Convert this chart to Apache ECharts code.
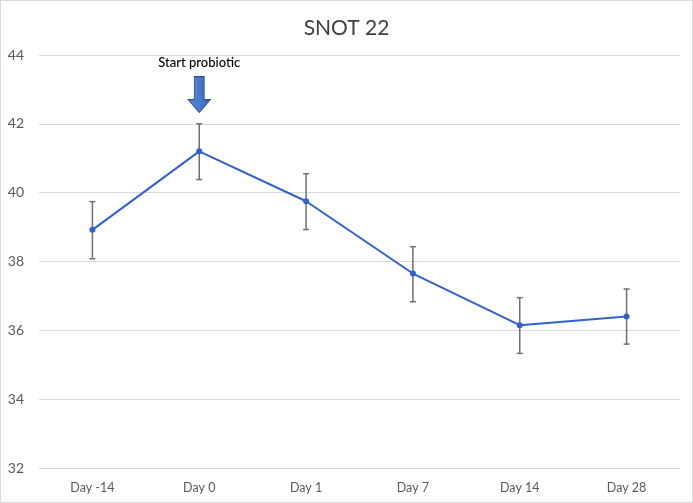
<!DOCTYPE html>
<html>
<head>
<meta charset="utf-8">
<script src="https://cdn.jsdelivr.net/npm/echarts@6/dist/echarts.min.js"></script>
<style>
  html, body { margin: 0; padding: 0; background: #fff; }
  #chart { width: 693px; height: 503px; border: 1px solid #d9d9d9; box-sizing: border-box; }
</style>
</head>
<body>
<div id="chart"></div>
<script>
// SNOT 22 scores over time, with error bars
const days = ["Day -14", "Day 0", "Day 1", "Day 7", "Day 14", "Day 28"];
const means = [38.92, 41.2, 39.75, 37.65, 36.15, 36.4];
const lower = [38.08, 40.38, 38.93, 36.83, 35.33, 35.6];
const upper = [39.74, 42.0, 40.55, 38.43, 36.95, 37.2];
const annotation = { day: "Day 0", level: 42.85, text: "Start probiotic" };

const chart = echarts.init(document.getElementById("chart"));

const errData = days.map((d, i) => [i, lower[i], upper[i]]);

function renderErr(params, api) {
  const x = api.value(0);
  const lo = api.coord([x, api.value(1)]);
  const hi = api.coord([x, api.value(2)]);
  const cap = 3;
  const style = { stroke: "#707070", lineWidth: 1.5 };
  return {
    type: "group",
    children: [
      { type: "line", shape: { x1: lo[0], y1: lo[1], x2: hi[0], y2: hi[1] }, style },
      { type: "line", shape: { x1: lo[0] - cap, y1: lo[1], x2: lo[0] + cap, y2: lo[1] }, style },
      { type: "line", shape: { x1: hi[0] - cap, y1: hi[1], x2: hi[0] + cap, y2: hi[1] }, style },
    ],
  };
}

chart.setOption({
  animation: false,
  textStyle: { fontFamily: "Lato, 'Open Sans', sans-serif" },
  title: {
    text: "SNOT 22",
    left: "center",
    top: 12,
    textStyle: { fontSize: 21, fontWeight: "normal", color: "#404040" },
  },
  grid: { left: 38, right: 12, top: 54, bottom: 34, containLabel: false },
  xAxis: {
    type: "category",
    data: days,
    boundaryGap: true,
    axisLine: { show: false },
    axisTick: { show: false },
    axisLabel: { color: "#595959", fontSize: 12.5, margin: 13 },
  },
  yAxis: {
    type: "value",
    min: 32,
    max: 44,
    interval: 2,
    axisLine: { show: false },
    axisTick: { show: false },
    axisLabel: { color: "#595959", fontSize: 14, margin: 15 },
    splitLine: { lineStyle: { color: "#d9d9d9", width: 1 } },
  },
  series: [
    {
      type: "custom",
      data: errData,
      renderItem: renderErr,
      z: 1,
    },
    {
      type: "line",
      data: means,
      z: 3,
      symbol: "circle",
      symbolSize: 6,
      lineStyle: { color: "#2f62d0", width: 2 },
      itemStyle: { color: "#2f62d0" },
      markPoint: {
        silent: true,
        symbol: "path://M2.75,0 L7.25,0 L7.25,6.4 L10,6.4 L5,10 L0,6.4 L2.75,6.4 Z",
        symbolSize: [22, 36],
        itemStyle: {
          color: new echarts.graphic.LinearGradient(0, 0, 1, 0, [
            { offset: 0, color: "#5b8ee0" },
            { offset: 1, color: "#3563b8" },
          ]),
          borderColor: "#2f528f",
          borderWidth: 1,
        },
        label: {
          show: true,
          position: "top",
          distance: 7,
          formatter: annotation.text,
          color: "#000",
          fontSize: 13,
          fontWeight: 500,
        },
        data: [{ coord: [annotation.day, annotation.level] }],
      },
    },
  ],
});
</script>
</body>
</html>
